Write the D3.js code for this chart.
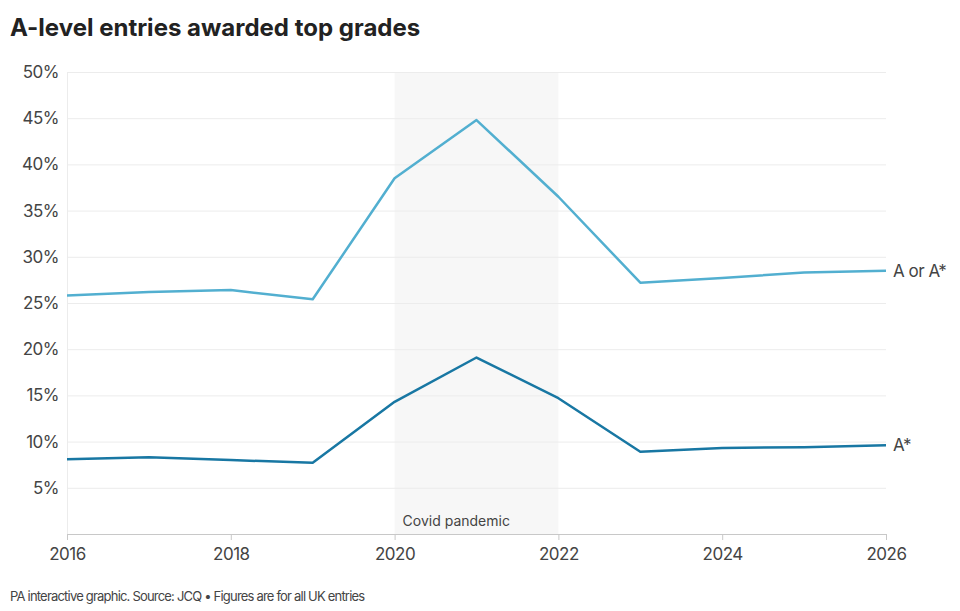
<!DOCTYPE html>
<html>
<head>
<meta charset="utf-8">
<script src="https://cdn.jsdelivr.net/npm/d3@7"></script>
<style>
    body { margin: 0; background: #fff; font-family: Inter, "Noto Sans", sans-serif; }
    svg text { fill: #444; }
</style>
</head>
<body>
<script>
// years and share of entries (%) awarded each grade band
var years = [2016, 2017, 2018, 2019, 2020, 2021, 2022, 2023, 2024, 2025, 2026];
var aOrAStar = [25.8, 26.2, 26.4, 25.4, 38.5, 44.8, 36.5, 27.2, 27.7, 28.3, 28.5];
var aStar = [8.1, 8.3, 8.0, 7.7, 14.3, 19.1, 14.7, 8.9, 9.3, 9.4, 9.6];
var seriesNames = ["A or A*", "A*"];
var yTicks = [5, 10, 15, 20, 25, 30, 35, 40, 45, 50];
var xTicks = [2016, 2018, 2020, 2022, 2024, 2026];
var covid = [2020, 2022];

var width = 960,
    height = 611,
    margin = {top: 72, right: 74, bottom: 77, left: 67};

var svg = d3.select("body").append("svg")
    .attr("width", width)
    .attr("height", height);

var x = d3.scaleLinear()
    .domain([2016, 2026])
    .range([margin.left, width - margin.right]);

var y = d3.scaleLinear()
    .domain([0, 50])
    .range([height - margin.bottom, margin.top]);

svg.append("text")
    .attr("x", 10)
    .attr("y", 36)
    .attr("font-size", 24)
    .attr("font-weight", "bold")
    .style("fill", "#222")
    .style("letter-spacing", "0px")
    .text("A-level entries awarded top grades");

// covid band
svg.append("rect")
    .attr("x", x(covid[0]))
    .attr("y", y(50))
    .attr("width", x(covid[1]) - x(covid[0]))
    .attr("height", y(0) - y(50))
    .attr("fill", "#f7f7f7");

svg.append("text")
    .attr("x", x(covid[0]) + 8)
    .attr("y", y(0) - 8)
    .attr("font-size", 14)
    .text("Covid pandemic");

// gridlines + y labels
svg.append("g")
    .attr("transform", "translate(" + margin.left + ",0)")
    .call(d3.axisLeft(y)
        .tickValues(yTicks)
        .tickSize(-(width - margin.left - margin.right))
        .tickPadding(8)
        .tickFormat(function(d) { return d + "%"; }))
    .call(function(g) {
        g.select(".domain").attr("stroke", "#ececec");
        g.selectAll(".tick line").attr("stroke", "#ececec");
        g.selectAll(".tick text")
            .attr("font-size", 17)
            .attr("font-family", "Inter, sans-serif")
            .style("fill", "#444")
            .style("letter-spacing", "-0.5px");
    });

// x axis
svg.append("g")
    .attr("transform", "translate(0," + y(0) + ")")
    .call(d3.axisBottom(x)
        .tickValues(xTicks)
        .tickSize(6)
        .tickPadding(8)
        .tickFormat(d3.format("d")))
    .call(function(g) {
        g.select(".domain").attr("stroke", "#c8c8c8");
        g.selectAll(".tick line").attr("stroke", "#c8c8c8");
        g.selectAll(".tick text")
            .attr("font-size", 17)
            .attr("font-family", "Inter, sans-serif")
            .style("fill", "#444")
            .style("letter-spacing", "-0.5px");
    });

var line = d3.line()
    .x(function(d, i) { return x(years[i]); })
    .y(function(d) { return y(d); });

var series = [aOrAStar, aStar];
var colors = ["#52afd0", "#1877a3"];

series.forEach(function(s, k) {
    svg.append("path")
        .datum(s)
        .attr("fill", "none")
        .attr("stroke", colors[k])
        .attr("stroke-width", 2.5)
        .attr("stroke-linejoin", "round")
        .attr("d", line);

    svg.append("text")
        .attr("x", x(years[years.length - 1]) + 7)
        .attr("y", y(s[s.length - 1]))
        .attr("dy", "0.35em")
        .attr("font-size", 17)
        .style("letter-spacing", "-0.5px")
        .text(seriesNames[k]);
});

svg.append("text")
    .attr("x", 10)
    .attr("y", 601)
    .attr("font-size", 13)
    .style("letter-spacing", "-0.8px")
    .text("PA interactive graphic. Source: JCQ \u2022 Figures are for all UK entries");
</script>
</body>
</html>
